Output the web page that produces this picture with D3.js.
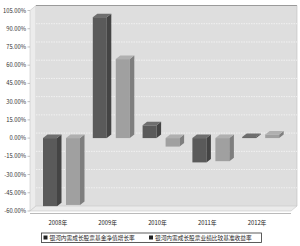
<!DOCTYPE html>
<html><head><meta charset="utf-8">
<script src="https://cdnjs.cloudflare.com/ajax/libs/d3/7.8.5/d3.min.js"></script>
<style>body{margin:0;background:#fff}svg{display:block}</style>
</head><body><svg id="c" width="300" height="246"></svg>
<script>
const categories = ["2008年","2009年","2010年","2011年","2012年"];
const fundReturns = [-56, 99.5, 10.5, -20, 0.8];
const benchmarkReturns = [-55, 65, -7, -19, 3];
const yTicks = [-60,-45,-30,-15,0,15,30,45,60,75,90,105];
const seriesNames = ["银河内需成长股票基金净值增长率","银河内需成长股票业绩比较基准收益率"];

const svg = d3.select("#c");
const font = "'Noto Sans CJK SC','DejaVu Sans',sans-serif";
const y = d3.scaleLinear().domain([-60,105]).range([211,10.5]);
const x = d3.scaleBand().domain(categories).range([33,282]);
const fx0 = 30, fx1 = 291, wdx = 6, wdy = -5;

// left wall
svg.append("path").attr("d",`M${fx0},${y(105)}L${fx0+wdx},${y(105)+wdy}L${fx0+wdx},${y(-60)+wdy}L${fx0},${y(-60)}Z`)
  .attr("fill","#ececec").attr("stroke","#c8c8c8").attr("stroke-width",0.6);
// back wall
svg.append("rect").attr("x",fx0+wdx).attr("y",y(105)+wdy).attr("width",fx1-fx0).attr("height",y(-60)-y(105))
  .attr("fill","#dedede");
svg.append("line").attr("x1",fx0+wdx).attr("x2",fx1+wdx).attr("y1",y(105)+wdy).attr("y2",y(105)+wdy)
  .attr("stroke","#9a9a9a").attr("stroke-width",1);
svg.append("line").attr("x1",fx1+wdx).attr("x2",fx1+wdx).attr("y1",y(105)+wdy).attr("y2",y(-60)+wdy)
  .attr("stroke","#bdbdbd").attr("stroke-width",0.6);
// floor
svg.append("path").attr("d",`M${fx0},${y(-60)}L${fx0+wdx},${y(-60)+wdy}L${fx1+wdx},${y(-60)+wdy}L${fx1},${y(-60)}Z`)
  .attr("fill","#ebebeb").attr("stroke","#c8c8c8").attr("stroke-width",0.6);
// gridlines
svg.append("g").selectAll("line").data(yTicks.filter(t=>t>-60&&t<105)).join("line")
  .attr("x1",fx0+wdx).attr("x2",fx1+wdx).attr("y1",d=>y(d)+wdy).attr("y2",d=>y(d)+wdy)
  .attr("stroke","#f6f6f6").attr("stroke-width",0.8).attr("stroke-dasharray","1.5,1");
// y axis labels
svg.append("g").selectAll("text").data(yTicks).join("text")
  .attr("x",26).attr("y",d=>y(d)+2).attr("text-anchor","end")
  .attr("font-family",font).attr("font-size",5.8).attr("fill","#333")
  .text(d=>d.toFixed(2)+"%");
svg.append("g").selectAll("line").data(yTicks).join("line")
  .attr("x1",27.5).attr("x2",30).attr("y1",d=>y(d)).attr("y2",d=>y(d))
  .attr("stroke","#999").attr("stroke-width",0.6);

// bars
const bw = 14, bdx = 4.5, bdy = -3.5;
const styles = [
  {off:10, front:"#5a5a5a", side:"#444", top:"#6e6e6e", vals:fundReturns},
  {off:33, front:"#a0a0a0", side:"#7e7e7e", top:"#b0b0b0", vals:benchmarkReturns}
];
const gb = svg.append("g");
categories.forEach((c,i)=>{
  styles.forEach(s=>{
    const v = s.vals[i];
    const xl = x(c)+s.off, xr = xl+bw;
    const yt = y(Math.max(v,0)), yb = y(Math.min(v,0));
    gb.append("rect").attr("x",xl).attr("y",yt).attr("width",bw).attr("height",yb-yt).attr("fill",s.front);
    gb.append("path").attr("d",`M${xr},${yt}L${xr+bdx},${yt+bdy}L${xr+bdx},${yb+bdy}L${xr},${yb}Z`).attr("fill",s.side);
    gb.append("path").attr("d",`M${xl},${yt}L${xl+bdx},${yt+bdy}L${xr+bdx},${yt+bdy}L${xr},${yt}Z`).attr("fill",s.top);
  });
});

// x axis
svg.append("line").attr("x1",fx0).attr("x2",fx1).attr("y1",y(-60)+2.5).attr("y2",y(-60)+2.5)
  .attr("stroke","#a8a8a8").attr("stroke-width",0.8);
svg.append("g").selectAll("text").data(categories).join("text")
  .attr("x",d=>x(d)+x.bandwidth()/2).attr("y",224.5).attr("text-anchor","middle")
  .attr("font-family",font).attr("font-size",5.8).attr("fill","#222").text(d=>d);

// legend
const lg = svg.append("g");
lg.append("rect").attr("x",41.5).attr("y",233).attr("width",220).attr("height",9.5)
  .attr("fill","#fff").attr("stroke","#333").attr("stroke-width",0.8);
const lx = [43.5, 149];
seriesNames.forEach((n,i)=>{
  lg.append("rect").attr("x",lx[i]).attr("y",235.5).attr("width",4).attr("height",4).attr("fill","#222");
  lg.append("text").attr("x",lx[i]+6).attr("y",240).attr("font-family",font).attr("font-size",5.7)
    .attr("fill","#222").text(n);
});
</script></body></html>
